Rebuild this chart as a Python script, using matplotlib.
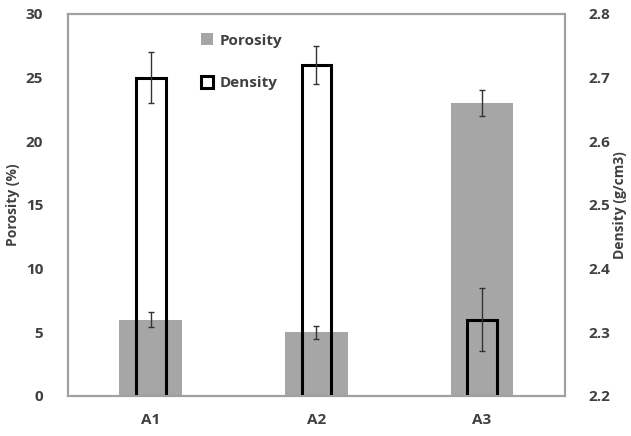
import matplotlib
import matplotlib.pyplot as plt
import numpy as np

matplotlib.use("Agg")

samples = ["A1", "A2", "A3"]
porosity = [6.0, 5.0, 23.0]
porosity_err = [0.55, 0.5, 1.0]
density = [2.70, 2.72, 2.32]
density_err = [0.04, 0.03, 0.05]

txt = "#404040"
plt.rcParams["font.family"] = ["Open Sans", "DejaVu Sans"]

fig = plt.figure(figsize=(6.31, 4.36), dpi=100)
ax = fig.add_axes([0.108, 0.092, 0.787, 0.876])
ax2 = ax.twinx()

x = np.arange(len(samples))
ax.bar(x, porosity, width=0.38, color="#a6a6a6", label="Porosity", zorder=1)
ax.errorbar(x, porosity, yerr=porosity_err, fmt="none", ecolor="#333333",
            elinewidth=1, capsize=2, capthick=1, zorder=3)
ax2.bar(x, np.array(density) - 2.2, bottom=2.2, width=0.18, facecolor="none",
        edgecolor="black", linewidth=2.2, label="Density", zorder=2)
ax2.errorbar(x, density, yerr=density_err, fmt="none", ecolor="#333333",
             elinewidth=1, capsize=2, capthick=1, zorder=3)

ax.set_xlim(-0.5, 2.5)
ax.set_ylim(0, 30)
ax.set_yticks(np.arange(0, 31, 5))
ax2.set_ylim(2.2, 2.8)
ax2.set_yticks(np.round(np.arange(2.2, 2.81, 0.1), 1))
ax.set_xticks(x)
ax.set_xticklabels(samples)

for a in (ax, ax2):
    a.tick_params(length=0, colors=txt, labelsize=11)
    for s in a.spines.values():
        s.set_color("#a0a0a0")
        s.set_linewidth(1.5)
    for lab in a.get_xticklabels() + a.get_yticklabels():
        lab.set_fontweight("bold")
ax.tick_params(axis="y", pad=18)
ax.tick_params(axis="x", pad=12)
ax2.tick_params(axis="y", pad=17)

ax.set_ylabel("Porosity (%)", color=txt, fontsize=10, fontweight="bold", labelpad=4)
ax2.set_ylabel("Density (g/cm3)", color=txt, fontsize=10, fontweight="bold", labelpad=2)

h1, l1 = ax.get_legend_handles_labels()
h2, l2 = ax2.get_legend_handles_labels()
leg = ax2.legend(h1 + h2, l1 + l2, loc="upper left", bbox_to_anchor=(0.24, 0.985),
                 frameon=False, labelspacing=1.85, handlelength=0.8, handleheight=0.8,
                 handletextpad=0.4, prop={"weight": "bold", "size": 11})
for t in leg.get_texts():
    t.set_color(txt)

fig.savefig("out.png", dpi=100)
plt.close(fig)
